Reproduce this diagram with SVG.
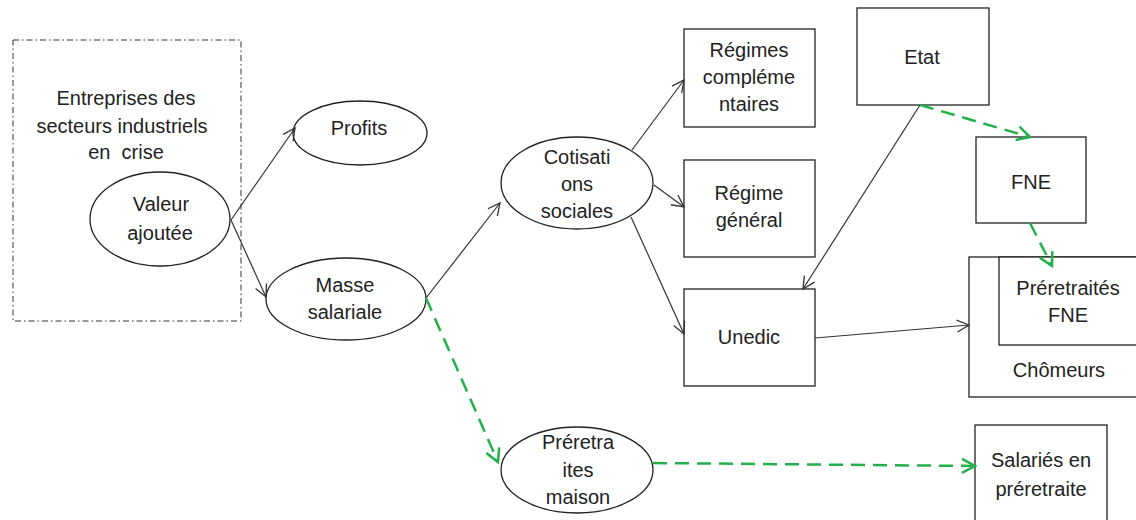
<svg xmlns="http://www.w3.org/2000/svg" width="1136" height="520" viewBox="0 0 1136 520">
<style>
text{font-family:"Liberation Sans",Arial,sans-serif;font-size:20px;fill:#222;text-anchor:middle;dominant-baseline:central;white-space:pre}
.n{fill:#fff;stroke:#222;stroke-width:1.3}
.c{fill:none;stroke:#333;stroke-width:1.2}
.g{fill:none;stroke:#22b04b;stroke-width:2.5;stroke-dasharray:14 8}
</style>
<defs>
<marker id="ab" markerUnits="userSpaceOnUse" markerWidth="16" markerHeight="16" refX="13" refY="8" orient="auto" viewBox="0 0 16 16">
<path d="M1,2 L13,8 L1,14" fill="none" stroke="#333" stroke-width="1.3"/>
</marker>
<marker id="ag" markerUnits="userSpaceOnUse" markerWidth="18" markerHeight="18" refX="14" refY="9" orient="auto" viewBox="0 0 18 18">
<path d="M1,2 L14,9 L1,16" fill="none" stroke="#22b04b" stroke-width="2.5"/>
</marker>
</defs>
<g id="entreprises">
<rect x="13" y="40" width="228" height="281" fill="none" stroke="#333" stroke-width="1" stroke-dasharray="6 3 1.5 3"/>
<text x="126" y="98">Entreprises des</text>
<text x="122" y="126">secteurs industriels</text>
<text x="126" y="152" xml:space="preserve">en  crise</text>
</g>
<g id="valeur"><ellipse class="n" cx="160" cy="219" rx="70" ry="47"/><text x="161" y="204">Valeur</text><text x="160" y="233">ajoutée</text></g>
<g id="profits"><ellipse class="n" cx="360" cy="133" rx="67" ry="32"/><text x="359" y="128">Profits</text></g>
<g id="masse"><ellipse class="n" cx="346" cy="299" rx="80" ry="41"/><text x="345" y="285">Masse</text><text x="345" y="312">salariale</text></g>
<g id="cotisations"><ellipse class="n" cx="577" cy="183" rx="76" ry="46"/><text x="577" y="157">Cotisati</text><text x="577" y="184">ons</text><text x="577" y="211">sociales</text></g>
<g id="regcomp"><rect class="n" x="684" y="29" width="131" height="98"/><text x="749" y="50">Régimes</text><text x="749" y="77">compléme</text><text x="749" y="104">ntaires</text></g>
<g id="reggen"><rect class="n" x="684" y="160" width="131" height="97"/><text x="749" y="193">Régime</text><text x="749" y="220">général</text></g>
<g id="unedic"><rect class="n" x="684" y="289" width="131" height="97"/><text x="749" y="337">Unedic</text></g>
<g id="etat"><rect class="n" x="857" y="8" width="132" height="97"/><text x="922" y="57">Etat</text></g>
<g id="fne"><rect class="n" x="976" y="137" width="110" height="86"/><text x="1031" y="182">FNE</text></g>
<g id="chomeurs"><rect class="n" x="969" y="257" width="180" height="140"/><text x="1059" y="370">Chômeurs</text></g>
<g id="preretfne"><rect class="n" x="999" y="257" width="150" height="88"/><text x="1068" y="288">Préretraités</text><text x="1068" y="315">FNE</text></g>
<g id="preretmaison"><ellipse class="n" cx="577" cy="470" rx="76" ry="43"/><text x="578" y="442">Préretra</text><text x="578" y="470">ites</text><text x="578" y="497">maison</text></g>
<g id="salaries"><rect class="n" x="975" y="425" width="132" height="110"/><text x="1041" y="460">Salariés en</text><text x="1041" y="489">préretraite</text></g>
<g id="connectors">
<line class="c" x1="231" y1="220" x2="295" y2="128" marker-end="url(#ab)"/>
<line class="c" x1="231" y1="220" x2="266" y2="297" marker-end="url(#ab)"/>
<line class="c" x1="426" y1="298" x2="500" y2="203" marker-end="url(#ab)"/>
<line class="c" x1="632" y1="150" x2="684" y2="80" marker-end="url(#ab)"/>
<line class="c" x1="654" y1="185" x2="684" y2="207" marker-end="url(#ab)"/>
<line class="c" x1="631" y1="217" x2="684" y2="334" marker-end="url(#ab)"/>
<line class="c" x1="920" y1="105" x2="803" y2="289" marker-end="url(#ab)"/>
<line class="c" x1="815" y1="338" x2="969" y2="325" marker-end="url(#ab)"/>
<line class="g" x1="920" y1="105" x2="1030" y2="137" marker-end="url(#ag)"/>
<line class="g" x1="1030" y1="223" x2="1052" y2="266" marker-end="url(#ag)"/>
<line class="g" x1="426" y1="298" x2="498" y2="462" marker-end="url(#ag)"/>
<line class="g" x1="653" y1="463" x2="975" y2="466" marker-end="url(#ag)"/>
</g>
</svg>
